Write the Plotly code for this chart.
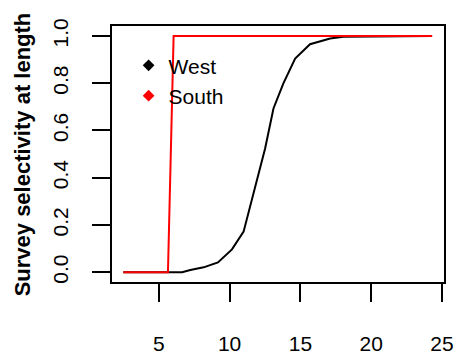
import plotly.graph_objects as go

# Selectivity-at-length curves for two survey regions
west_length = [2.5, 6.65, 7.23, 8.17, 9.18, 10.17, 10.99, 11.69, 12.16, 12.51,
               13.1, 13.8, 14.63, 15.68, 17.1, 18.03, 24.3]
west_sel = [0.0, 0.0, 0.01, 0.021, 0.042, 0.097, 0.172, 0.334, 0.453, 0.524,
            0.693, 0.799, 0.904, 0.965, 0.989, 0.996, 1.0]

south_length = [2.5, 5.65, 6.05, 24.3]
south_sel = [0.0, 0.0, 1.0, 1.0]

x_ticks = [5, 10, 15, 20, 25]
y_ticks = [0.0, 0.2, 0.4, 0.6, 0.8, 1.0]

FONT = "Liberation Sans, Arial, sans-serif"

fig = go.Figure()
fig.add_trace(go.Scatter(x=west_length, y=west_sel, mode="lines",
                         line=dict(color="black", width=2), showlegend=False))
fig.add_trace(go.Scatter(x=south_length, y=south_sel, mode="lines",
                         line=dict(color="#ff0000", width=2), showlegend=False))

# Legend keys drawn as diamond points
for name, col in [("West", "black"), ("South", "#ff0000")]:
    fig.add_trace(go.Scatter(x=[None], y=[None], mode="markers", name=name,
                             marker=dict(symbol="diamond", color=col, size=9)))

axis_common = dict(
    showline=True, linecolor="black", linewidth=2, mirror=True,
    ticks="outside", ticklen=18, tickwidth=2, tickcolor="black",
    showgrid=False, zeroline=False, automargin=False,
    tickfont=dict(family=FONT, size=21, color="black"),
)

fig.update_layout(
    width=455, height=356,
    margin=dict(l=112, r=11, t=26, b=74),
    paper_bgcolor="white", plot_bgcolor="white",
    xaxis=dict(range=[1.7, 25.14], tickvals=x_ticks, ticklabelstandoff=24,
               **axis_common),
    yaxis=dict(range=[-0.041, 1.042], tickvals=y_ticks, tickformat=".1f",
               tickangle=-90, ticklabelstandoff=16, **axis_common),
    legend=dict(x=0.05, y=0.925, xanchor="left", yanchor="top",
                bgcolor="rgba(0,0,0,0)", font=dict(family=FONT, size=21, color="black"),
                itemwidth=30, tracegroupgap=0),
    annotations=[dict(text="<b>Survey selectivity at length</b>", textangle=-90,
                      xref="paper", yref="paper", x=-0.27, y=0.5,
                      xanchor="center", yanchor="middle", showarrow=False,
                      font=dict(family=FONT, size=22, color="black"))],
)

fig.write_html("out.html")
